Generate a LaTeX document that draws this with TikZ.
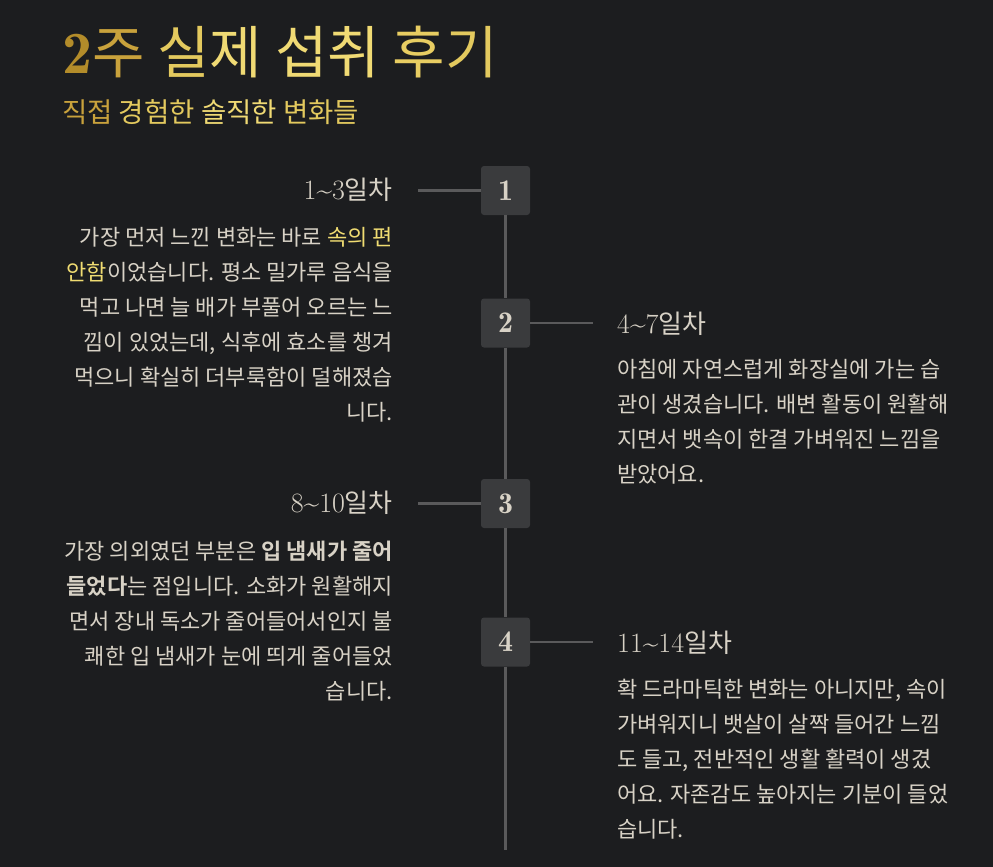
\documentclass[tikz,border=0pt]{standalone}
\usepackage{fontspec}
\setmainfont{Latin Modern Roman}
\newfontfamily\lmdemi{lmromandemi10-regular}[Extension=.otf]
\newfontfamily\kr{Noto Sans CJK KR}[BoldFont={Noto Sans CJK KR Bold}]
\definecolor{bg}{HTML}{1C1D1F}
\definecolor{linec}{HTML}{5A5A5B}
\definecolor{boxc}{HTML}{3A3B3D}
\definecolor{txt}{HTML}{D8D2C6}
\definecolor{hl}{HTML}{F0DC72}
\definecolor{gA}{HTML}{B38C2A}
\definecolor{gB}{HTML}{C9A23C}
\definecolor{gC}{HTML}{E3C95E}
\definecolor{gD}{HTML}{F0DA74}
\definecolor{gE}{HTML}{E8CD62}
\newcommand{\tl}{{\rmfamily\char"7E\relax}}
\begin{document}
\begin{tikzpicture}[x=1pt,y=-1pt,
  numbox/.style={fill=boxc,rounded corners=3pt,minimum width=49pt,minimum height=49pt,inner sep=0pt,text=txt,font=\lmdemi\fontsize{30}{30}\selectfont},
  conn/.style={draw=linec,line width=2.6pt},
  head/.style={inner sep=0pt,text=txt},
  bodyl/.style={inner sep=0pt,text=txt,font=\kr\fontsize{22}{26}\selectfont,anchor=base east},
  bodyr/.style={inner sep=0pt,text=txt,font=\kr\fontsize{22}{26}\selectfont,anchor=base west}]
\fill[bg] (0,0) rectangle (993,867);
\useasboundingbox (0,0) rectangle (993,867);
% title
\node[inner sep=0pt,anchor=base west] (title) at (62,74) {\lmdemi\fontsize{60}{60}\selectfont\textcolor{gA}{2}\kr\fontsize{57}{60}\selectfont\textcolor{gB}{주} \textcolor{gC}{실}\textcolor{gD}{제} \textcolor{gD}{섭취} \textcolor{gE}{후}\textcolor{gC}{기}};
\node[inner sep=0pt,anchor=base west] (subtitle) at (62,122) {\kr\fontsize{27.5}{30}\selectfont\textcolor{gB}{직접} \textcolor{gC}{경험한} \textcolor{gD}{솔직한} \textcolor{gC}{변화들}};
% timeline
\coordinate (tend) at (505.5,850);
\node[numbox] (b1) at (505.5,190.5) {1};
\node[numbox] (b2) at (505.5,323) {2};
\node[numbox] (b3) at (505.5,503.5) {3};
\node[numbox] (b4) at (505.5,642) {4};
\draw[conn] (b1.south) -- (b2.north);
\draw[conn] (b2.south) -- (b3.north);
\draw[conn] (b3.south) -- (b4.north);
\draw[conn] (b4.south) -- (tend);
\coordinate (c1) at (418,190.5);
\coordinate (c2) at (593,323);
\coordinate (c3) at (418,503.5);
\coordinate (c4) at (593,642);
\draw[conn] (b1.west) -- (c1);
\draw[conn] (b2.east) -- (c2);
\draw[conn] (b3.west) -- (c3);
\draw[conn] (b4.east) -- (c4);
% headings
\node[head,anchor=base east] (h1) at (393,199) {\fontsize{28}{28}\selectfont 1\tl3\kr\fontsize{26}{28}\selectfont 일차};
\node[head,anchor=base west] (h2) at (617,333) {\fontsize{28}{28}\selectfont 4\tl7\kr\fontsize{26}{28}\selectfont 일차};
\node[head,anchor=base east] (h3) at (393,512) {\fontsize{28}{28}\selectfont 8\tl10\kr\fontsize{26}{28}\selectfont 일차};
\node[head,anchor=base west] (h4) at (617,652) {\fontsize{28}{28}\selectfont 11\tl14\kr\fontsize{26}{28}\selectfont 일차};
% block 1
\node[bodyl] (a1) at (393,245.5) {가장 먼저 느낀 변화는 바로 \textcolor{hl}{속의 편}};
\node[bodyl] (a2) at (393,280.5) {\textcolor{hl}{안함}이었습니다. 평소 밀가루 음식을};
\node[bodyl] (a3) at (393,315.5) {먹고 나면 늘 배가 부풀어 오르는 느};
\node[bodyl] (a4) at (393,350.5) {낌이 있었는데, 식후에 효소를 챙겨};
\node[bodyl] (a5) at (393,385.5) {먹으니 확실히 더부룩함이 덜해졌습};
\node[bodyl] (a6) at (393,420.5) {니다.};
% block 2
\node[bodyr] (r1) at (617,377.5) {아침에 자연스럽게 화장실에 가는 습};
\node[bodyr] (r2) at (617,412.5) {관이 생겼습니다. 배변 활동이 원활해};
\node[bodyr] (r3) at (617,447.5) {지면서 뱃속이 한결 가벼워진 느낌을};
\node[bodyr] (r4) at (617,482.5) {받았어요.};
% block 3
\node[bodyl] (d1) at (393,559) {가장 의외였던 부분은 \textbf{입 냄새가 줄어}};
\node[bodyl] (d2) at (393,594) {\textbf{들었다}는 점입니다. 소화가 원활해지};
\node[bodyl] (d3) at (393,629) {면서 장내 독소가 줄어들어서인지 불};
\node[bodyl] (d4) at (393,664) {쾌한 입 냄새가 눈에 띄게 줄어들었};
\node[bodyl] (d5) at (393,699) {습니다.};
% block 4
\node[bodyr] (e1) at (617,697) {확 드라마틱한 변화는 아니지만, 속이};
\node[bodyr] (e2) at (617,732) {가벼워지니 뱃살이 살짝 들어간 느낌};
\node[bodyr] (e3) at (617,767) {도 들고, 전반적인 생활 활력이 생겼};
\node[bodyr] (e4) at (617,802) {어요. 자존감도 높아지는 기분이 들었};
\node[bodyr] (e5) at (617,837) {습니다.};
\end{tikzpicture}
\end{document}
